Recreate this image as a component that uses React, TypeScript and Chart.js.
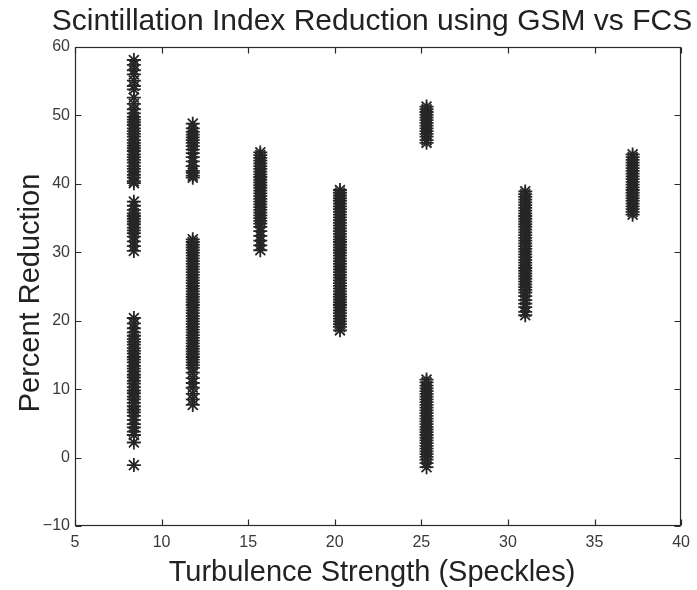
import { useEffect, useRef } from 'react';
import { Chart, registerables } from 'chart.js';

Chart.register(...registerables);

const TITLE = 'Scintillation Index Reduction using GSM vs FCS';
const X_LABEL = 'Turbulence Strength (Speckles)';
const Y_LABEL = 'Percent Reduction';

const xTicks = [5, 10, 15, 20, 25, 30, 35, 40];
const yTicks = [-10, 0, 10, 20, 30, 40, 50, 60];

// x position (turbulence strength) of each column of measurements
const columnX = [8.4, 11.8, 15.7, 20.3, 25.3, 31.0, 37.2];

// percent reduction values read per column
const col1Y = [
  58.1, 57.4, 56.6, 56.0, 55.1, 54.3, 53.8, 52.6, 51.7, 50.9, 50.3, 49.8, 49.4, 49.0, 48.6, 48.1,
  47.7, 47.3, 46.9, 46.4, 46.0, 45.6, 45.2, 44.8, 44.3, 43.9, 43.5, 43.1, 42.6, 42.2, 41.8, 41.3,
  40.9, 40.4, 40.1,
  37.4, 36.8, 36.2, 35.7, 35.3, 34.9, 34.5, 34.1, 33.6, 33.2, 32.8, 32.3, 31.6, 30.9, 30.2,
  20.4, 19.6, 18.9, 18.3, 17.8, 17.3, 16.9, 16.5, 16.0, 15.6, 15.2, 14.7, 14.3, 13.9, 13.4, 13.0,
  12.6, 12.1, 11.7, 11.2, 10.8, 10.3, 9.8, 9.4, 8.9, 8.5, 8.0, 7.5, 7.0, 6.6, 6.1, 5.5, 4.9, 4.4,
  3.8, 3.3, 2.2, -1.1,
];
const col2Y = [
  48.8, 48.1, 47.6, 47.2, 46.8, 46.4, 46.0, 45.5, 45.0, 44.5, 43.9, 43.3, 42.6, 41.9, 41.6, 41.2, 40.9,
  31.9, 31.5, 31.1, 30.7, 30.3, 29.9, 29.5, 29.1, 28.7, 28.3, 27.9, 27.5, 27.1, 26.7, 26.3, 25.9,
  25.5, 25.1, 24.7, 24.3, 23.9, 23.5, 23.1, 22.7, 22.3, 21.9, 21.5, 21.1, 20.7, 20.3, 19.9, 19.5,
  19.1, 18.7, 18.3, 17.9, 17.5, 17.1, 16.7, 16.3, 15.9, 15.5, 15.1, 14.7, 14.3, 13.9, 13.5, 13.1,
  12.4, 11.6, 10.9, 10.2, 9.3, 8.5, 7.7,
];
const col3Y = [
  44.6, 44.2, 43.8, 43.4, 43.0, 42.6, 42.2, 41.8, 41.4, 41.0, 40.6, 40.2, 39.8, 39.4, 39.0, 38.6,
  38.2, 37.8, 37.4, 37.0, 36.6, 36.2, 35.8, 35.4, 35.0, 34.6, 34.2, 33.7, 33.1, 32.4, 31.7, 31.0, 30.3,
];
const col4Y = [
  39.1, 38.7, 38.3, 37.9, 37.5, 37.1, 36.7, 36.3, 35.9, 35.5, 35.1, 34.7, 34.3, 33.9, 33.5, 33.1,
  32.7, 32.3, 31.9, 31.5, 31.1, 30.7, 30.3, 29.9, 29.5, 29.1, 28.7, 28.3, 27.9, 27.5, 27.1, 26.7,
  26.3, 25.9, 25.5, 25.1, 24.7, 24.3, 23.9, 23.5, 23.1, 22.7, 22.3, 21.9, 21.5, 21.1, 20.7, 20.3,
  19.9, 19.5, 19.1, 18.6,
];
const col5Y = [
  51.3, 50.9, 50.5, 50.1, 49.7, 49.3, 48.9, 48.5, 48.1, 47.7, 47.3, 46.9, 46.4, 46.0,
  11.4, 11.0, 10.5, 10.1, 9.7, 9.3, 8.9, 8.5, 8.1, 7.7, 7.3, 6.9, 6.5, 6.1, 5.7, 5.3, 4.9, 4.5,
  4.1, 3.7, 3.3, 2.9, 2.5, 2.1, 1.7, 1.3, 0.9, 0.5, 0.1, -0.3, -0.8, -1.4,
];
const col6Y = [
  38.9, 38.5, 38.1, 37.7, 37.3, 36.9, 36.5, 36.1, 35.7, 35.3, 34.9, 34.5, 34.1, 33.7, 33.3, 32.9,
  32.5, 32.1, 31.7, 31.3, 30.9, 30.5, 30.1, 29.7, 29.3, 28.9, 28.5, 28.1, 27.7, 27.3, 26.9, 26.5,
  26.1, 25.7, 25.3, 24.9, 24.5, 24.1, 23.6, 23.0, 22.5, 22.0, 21.3, 20.8,
];
const col7Y = [
  44.3, 43.9, 43.5, 43.1, 42.7, 42.3, 41.9, 41.5, 41.1, 40.7, 40.3, 39.9, 39.5, 39.1, 38.7, 38.3,
  37.9, 37.5, 37.1, 36.7, 36.3, 35.9, 35.5,
];

const columnsY = [col1Y, col2Y, col3Y, col4Y, col5Y, col6Y, col7Y];

const FONT = "'Liberation Sans', Arial, Helvetica, sans-serif";
const INK = '#262626';

const boxPlugin = {
  id: 'matlabBox',
  afterDatasetsDraw(chart: any) {
    const { ctx, chartArea: a, scales } = chart;
    ctx.save();
    ctx.strokeStyle = '#2a2a2a';
    ctx.lineWidth = 1.2;
    const L = Math.round(a.left) + 0.5;
    const R = Math.round(a.right) - 0.5;
    const T = Math.round(a.top) + 0.5;
    const B = Math.round(a.bottom) - 0.5;
    ctx.strokeRect(L, T, R - L, B - T);
    ctx.beginPath();
    const len = 6;
    for (const t of scales.x.ticks) {
      const px = Math.round(scales.x.getPixelForValue(t.value)) + 0.5;
      ctx.moveTo(px, B);
      ctx.lineTo(px, B - len);
      ctx.moveTo(px, T);
      ctx.lineTo(px, T + len);
    }
    for (const t of scales.y.ticks) {
      const py = Math.round(scales.y.getPixelForValue(t.value)) + 0.5;
      ctx.moveTo(L, py);
      ctx.lineTo(L + len, py);
      ctx.moveTo(R, py);
      ctx.lineTo(R - len, py);
    }
    ctx.stroke();

    // titles
    ctx.fillStyle = '#222';
    ctx.textBaseline = 'alphabetic';
    ctx.textAlign = 'center';
    ctx.font = `30px ${FONT}`;
    ctx.fillText(TITLE, 372, 30);
    ctx.font = `29px ${FONT}`;
    ctx.fillText(X_LABEL, 372, 581);
    ctx.translate(39, 293);
    ctx.rotate(-Math.PI / 2);
    ctx.fillText(Y_LABEL, 0, 0);
    ctx.restore();
  },
};

export default function App() {
  const canvasRef = useRef<HTMLCanvasElement | null>(null);

  useEffect(() => {
    if (!canvasRef.current) return;
    const points: { x: number; y: number }[] = [];
    columnsY.forEach((ys, i) => {
      ys.forEach((y) => points.push({ x: columnX[i], y }));
    });

    const chart = new Chart(canvasRef.current, {
      type: 'scatter',
      data: {
        datasets: [
          {
            data: points,
            pointStyle: 'star',
            pointRadius: 7,
            pointHoverRadius: 7,
            borderColor: INK,
            backgroundColor: INK,
            borderWidth: 1.8,
            showLine: false,
          },
        ],
      },
      options: {
        animation: false,
        responsive: false,
        devicePixelRatio: 1,
        layout: { padding: { left: 0, right: 13, top: 47, bottom: 0 } },
        plugins: {
          legend: { display: false },
          tooltip: { enabled: false },
          title: { display: false },
        },
        scales: {
          x: {
            type: 'linear',
            min: 5,
            max: 40,
            afterBuildTicks: (s: any) => {
              s.ticks = xTicks.map((v) => ({ value: v }));
            },
            afterFit: (s: any) => {
              s.height = 64;
            },
            grid: { display: false, drawTicks: false },
            border: { display: false },
            ticks: {
              color: '#3a3a3a',
              font: { family: FONT, size: 16 },
              padding: 7,
              maxRotation: 0,
              autoSkip: false,
            },
          },
          y: {
            type: 'linear',
            min: -10,
            max: 60,
            afterBuildTicks: (s: any) => {
              s.ticks = yTicks.map((v) => ({ value: v }));
            },
            afterFit: (s: any) => {
              s.width = 75;
            },
            grid: { display: false, drawTicks: false },
            border: { display: false },
            ticks: {
              color: '#3a3a3a',
              font: { family: FONT, size: 16 },
              padding: 5,
              autoSkip: false,
              callback: (v: any) => (v < 0 ? '\u2212' + Math.abs(v) : String(v)),
            },
          },
        },
      },
      plugins: [boxPlugin],
    });
    return () => chart.destroy();
  }, []);

  return (
    <div style={{ position: 'absolute', left: 0, top: 0, width: 697, height: 590, background: '#fff' }}>
      <canvas ref={canvasRef} width={697} height={590} />
    </div>
  );
}
